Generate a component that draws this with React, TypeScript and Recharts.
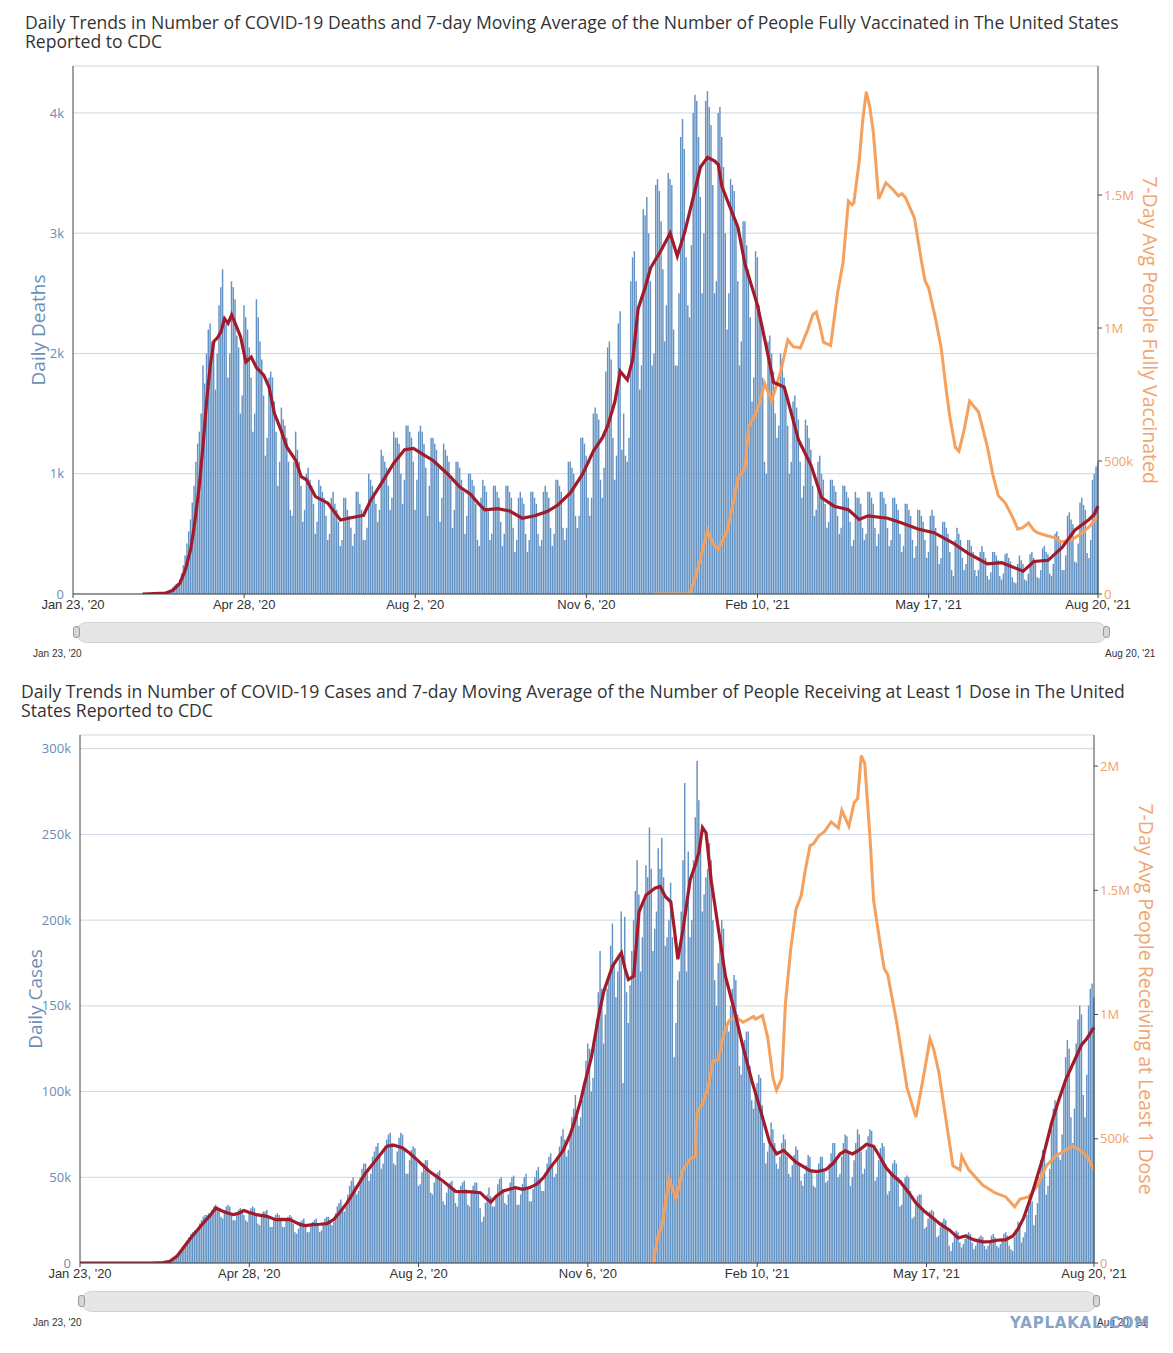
import React from 'react';
import { ComposedChart, Bar, Line, XAxis, YAxis, CartesianGrid } from 'recharts';

// x axis runs in days counted from Jan 23, 2020 (day 0) to Aug 20, 2021 (day 575)
const LAST_DAY = 575;
const FIRST_BAR_DAY = 38; // Sun Mar 1, 2020 – daily bars start here, one row per week below
const xTicks = [0, 96, 192, 288, 384, 480, 575];
const xTickLabels = ["Jan 23, '20", "Apr 28, '20", "Aug 2, '20", "Nov 6, '20", "Feb 10, '21", "May 17, '21", "Aug 20, '21"];

// daily deaths, Sun..Sat
const dailyDeaths = [
  0, 1, 1, 2, 2, 3, 3,
  3, 4, 6, 8, 10, 12, 15,
  18, 22, 30, 40, 55, 70, 85,
  90, 120, 170, 240, 320, 420, 520,
  620, 760, 900, 1100, 1250, 1350, 1500,
  1900, 1750, 2000, 2200, 2250, 2100, 2050,
  1700, 2000, 2400, 2550, 2700, 2300, 2250,
  1800, 2000, 2600, 2550, 2450, 2150, 2050,
  1500, 1650, 2400, 2300, 2200, 2050, 1800,
  1350, 1500, 2450, 2300, 2100, 1950, 1650,
  1150, 1300, 1800, 1850, 1800, 1600, 1350,
  900, 1100, 1550, 1450, 1400, 1300, 1100,
  700, 650, 1100, 1350, 1200, 1100, 900,
  600, 700, 1000, 1050, 950, 900, 750,
  500, 600, 950, 900, 850, 800, 650,
  450, 500, 800, 850, 750, 700, 600,
  400, 450, 800, 800, 700, 650, 550,
  400, 500, 850, 850, 750, 700, 450,
  450, 550, 1000, 950, 900, 850, 750,
  600, 700, 1200, 1150, 1100, 1050, 900,
  700, 800, 1350, 1300, 1300, 1250, 1000,
  750, 950, 1400, 1400, 1350, 1300, 1100,
  700, 950, 1350, 1400, 1350, 1250, 1050,
  650, 900, 1300, 1300, 1250, 1200, 1050,
  600, 800, 1250, 1200, 1150, 1100, 950,
  550, 700, 1100, 1100, 1050, 950, 850,
  500, 650, 1000, 1000, 950, 900, 750,
  450, 400, 800, 950, 900, 850, 700,
  450, 500, 900, 900, 850, 800, 600,
  400, 500, 900, 900, 850, 800, 550,
  350, 450, 800, 850, 800, 750, 500,
  350, 450, 850, 850, 800, 750, 500,
  400, 450, 850, 900, 850, 800, 550,
  400, 500, 950, 950, 900, 850, 550,
  450, 550, 1100, 1100, 1050, 1000, 650,
  550, 650, 1300, 1300, 1250, 1150, 800,
  650, 800, 1500, 1550, 1500, 1450, 950,
  800, 1050, 1850, 2050, 2100, 1950, 1300,
  950, 1150, 2250, 2350, 1200, 1500, 1150,
  1100, 1300, 2600, 2800, 2850, 2600, 2300,
  1700, 1900, 3200, 3150, 3300, 3000, 2600,
  1900, 2000, 3400, 3450, 3350, 3100, 2700,
  2100, 2400, 3500, 3450, 3400, 2200, 1900,
  1900, 2500, 3800, 3950, 3700, 2800, 2400,
  2300, 2900, 4000, 4150, 4100, 3800, 3300,
  2500, 3000, 4100, 4180, 4050, 3900, 3400,
  2500, 2600, 4000, 4050, 3800, 3550, 3000,
  2200, 2500, 3450, 3400, 3350, 3100, 2600,
  1900, 2100, 3100, 3100, 2900, 2700, 2300,
  1600, 1800, 2850, 2800, 2400, 2300, 1800,
  1100, 1000, 2100, 2150, 2000, 1850, 1500,
  1300, 1400, 2000, 1950, 1800, 1700, 1400,
  1000, 1100, 1600, 1650, 1550, 1450, 1100,
  800, 900, 1450, 1400, 1300, 1200, 900,
  650, 700, 1100, 1150, 1000, 950, 750,
  550, 600, 950, 950, 900, 850, 650,
  500, 550, 900, 900, 850, 800, 600,
  400, 450, 850, 800, 800, 750, 550,
  450, 500, 850, 850, 800, 750, 550,
  400, 500, 850, 850, 800, 750, 550,
  400, 450, 800, 800, 750, 700, 500,
  350, 400, 750, 750, 700, 650, 450,
  300, 400, 700, 700, 650, 600, 450,
  300, 350, 650, 700, 650, 550, 400,
  250, 300, 600, 600, 550, 500, 350,
  200, 150, 450, 550, 500, 450, 300,
  200, 250, 450, 450, 400, 350, 200,
  150, 200, 350, 400, 350, 300, 150,
  120, 180, 350, 350, 320, 280, 150,
  120, 170, 330, 340, 300, 270, 140,
  100, 90, 250, 320, 280, 250, 120,
  110, 170, 330, 350, 300, 280, 140,
  130, 200, 380, 400, 350, 330, 170,
  150, 250, 500, 520, 480, 450, 200,
  200, 320, 650, 680, 620, 580, 270,
  260, 420, 760, 800, 740, 700, 340,
  300, 450, 950, 1000, 1060, 1100,
];

// [day, 7-day average deaths]
const deathsAvg: [number, number][] = [
  [39, 0], [52, 8], [56, 30], [60, 90], [63, 200], [66, 370], [68, 560], [71, 920], [73, 1250], [75, 1610],
  [77, 1900], [79, 2100], [81, 2130], [83, 2180], [85, 2290], [87, 2250], [89, 2320], [91, 2250], [94, 2140],
  [97, 1930], [100, 1970], [103, 1880], [107, 1820], [110, 1720], [113, 1500], [117, 1350], [120, 1220],
  [125, 1110], [128, 975], [131, 950], [136, 810], [143, 755], [150, 615], [158, 640], [163, 655], [167, 780],
  [173, 920], [180, 1090], [186, 1200], [191, 1210], [197, 1155], [202, 1110], [210, 1000], [217, 890],
  [223, 830], [227, 760], [231, 700], [238, 710], [245, 690], [252, 630], [259, 650], [266, 685], [272, 740],
  [279, 840], [286, 1000], [292, 1190], [297, 1300], [300, 1400], [304, 1600], [307, 1850], [311, 1780],
  [314, 1950], [317, 2370], [321, 2550], [324, 2710], [330, 2860], [335, 3000], [339, 2810], [343, 3000],
  [347, 3240], [352, 3550], [356, 3630], [360, 3600], [362, 3570], [364, 3390], [369, 3200], [373, 3050],
  [377, 2740], [384, 2400], [389, 2050], [393, 1760], [396, 1740], [399, 1720], [403, 1500], [407, 1280],
  [414, 1070], [420, 800], [427, 730], [435, 700], [441, 620], [446, 650], [457, 630], [465, 590], [474, 540],
  [483, 510], [493, 430], [502, 340], [513, 250], [521, 260], [533, 190], [539, 270], [547, 280], [555, 390],
  [562, 530], [570, 620], [573, 665], [575, 730],
];

// [day, 7-day average of people fully vaccinated]
const fullyVaccinated: [number, number][] = [
  [326, 0], [346, 0], [349, 60000], [352, 135000], [356, 238000], [359, 190000], [362, 167000], [367, 238000],
  [370, 330000], [373, 433000], [377, 474000], [379, 628000], [384, 693000], [388, 791000], [392, 726000],
  [397, 837000], [401, 955000], [404, 930000], [408, 925000], [412, 990000], [415, 1050000], [417, 1060000],
  [419, 1010000], [421, 947000], [425, 934000], [429, 1135000], [432, 1248000], [435, 1477000], [437, 1463000],
  [438, 1470000], [441, 1624000], [443, 1780000], [445, 1888000], [447, 1830000], [449, 1734000], [452, 1485000],
  [456, 1546000], [460, 1520000], [463, 1497000], [465, 1505000], [467, 1490000], [472, 1414000], [476, 1250000],
  [478, 1178000], [480, 1150000], [484, 1030000], [487, 927000], [490, 760000], [492, 662000], [495, 551000],
  [497, 537000], [500, 620000], [503, 725000], [506, 700000], [508, 684000], [513, 551000], [516, 450000],
  [519, 370000], [523, 342000], [527, 290000], [530, 244000], [533, 250000], [536, 267000], [539, 240000],
  [541, 231000], [546, 220000], [551, 211000], [554, 196000], [558, 200000], [562, 211000], [566, 230000],
  [570, 252000], [575, 293000],
];

// daily cases in thousands, Sun..Sat
const dailyCasesK = [
  0, 0, 0.1, 0.1, 0.1, 0.2, 0.2,
  0.3, 0.4, 0.5, 0.6, 0.8, 1, 1.5,
  2, 2.5, 3.5, 4.5, 6, 7.5, 9,
  10, 11, 13, 15, 17, 18, 19,
  19, 20, 23, 25, 27, 28, 28,
  29, 28, 31, 33, 34, 33, 32,
  27, 26, 30, 33, 34, 33, 29,
  25, 25, 28, 31, 32, 31, 28,
  25, 24, 29, 32, 33, 32, 28,
  23, 22, 27, 30, 30, 31, 27,
  21, 21, 26, 28, 29, 28, 25,
  21, 21, 25, 27, 28, 27, 23,
  18, 17, 20, 24, 25, 26, 22,
  18, 18, 22, 24, 25, 26, 23,
  18, 19, 23, 26, 27, 27, 24,
  22, 24, 29, 33, 35, 37, 33,
  30, 33, 40, 45, 48, 50, 45,
  40, 42, 50, 55, 58, 58, 52,
  48, 52, 62, 65, 68, 70, 62,
  55, 58, 68, 72, 75, 76, 70,
  58, 57, 65, 73, 76, 75, 66,
  52, 52, 60, 66, 68, 67, 59,
  45, 46, 53, 58, 60, 60, 52,
  41, 40, 47, 52, 53, 54, 47,
  36, 34, 41, 46, 47, 48, 42,
  35, 33, 41, 45, 47, 48, 43,
  34, 33, 41, 45, 47, 47, 41,
  32, 24, 27, 35, 40, 44, 39,
  33, 33, 38, 46, 49, 50, 43,
  35, 34, 40, 47, 50, 51, 45,
  34, 34, 40, 46, 50, 52, 44,
  36, 36, 43, 50, 54, 56, 48,
  42, 42, 50, 58, 62, 64, 57,
  50, 52, 61, 68, 74, 78, 72,
  62, 66, 75, 85, 90, 98, 88,
  80, 85, 95, 105, 118, 128, 125,
  100, 108, 128, 142, 158, 182, 160,
  128, 145, 160, 168, 185, 198, 175,
  155, 170, 178, 205, 105, 202, 158,
  140, 162, 182, 200, 217, 235, 215,
  170, 190, 210, 232, 225, 254, 230,
  182, 195, 205, 242, 230, 248, 225,
  185, 190, 200, 222, 190, 120, 140,
  165, 170, 205, 235, 280, 170, 240,
  190, 200, 235, 260, 293, 270, 245,
  205, 215, 225, 230, 245, 235, 200,
  165, 150, 175, 185, 200, 195, 170,
  140, 135, 150, 160, 168, 165, 145,
  115, 110, 125, 130, 135, 135, 115,
  95, 90, 100, 105, 110, 108, 92,
  70, 58, 65, 72, 82, 78, 70,
  58, 55, 62, 70, 75, 72, 62,
  52, 50, 57, 63, 68, 66, 58,
  48, 45, 52, 57, 63, 62, 54,
  45, 44, 52, 58, 62, 62, 54,
  47, 48, 58, 64, 70, 70, 61,
  50, 52, 62, 70, 75, 74, 64,
  45, 50, 60, 70, 78, 75, 65,
  52, 55, 66, 74, 78, 77, 67,
  48, 50, 60, 67, 70, 68, 58,
  40, 42, 52, 58, 60, 58, 50,
  33, 34, 44, 50, 51, 50, 42,
  26, 27, 34, 39, 40, 40, 32,
  20, 21, 26, 30, 31, 30, 25,
  15, 16, 21, 24, 26, 25, 20,
  10, 7, 12, 17, 19, 18, 12,
  9, 11, 14, 17, 18, 17, 12,
  8, 10, 13, 15, 16, 15, 10,
  8, 10, 13, 16, 17, 15, 10,
  9, 11, 14, 17, 18, 16, 10,
  8, 7, 15, 20, 24, 22, 12,
  15, 18, 28, 34, 38, 36, 22,
  28, 35, 50, 60, 66, 63, 40,
  45, 55, 78, 90, 95, 92, 62,
  60, 75, 105, 120, 130, 125, 85,
  70, 90, 128, 142, 150, 145, 98,
  85, 110, 150, 160, 163, 155,
];

// [day, 7-day average cases in thousands]
const casesAvgK: [number, number][] = [
  [0, 0], [40, 0], [47, 0.3], [51, 1], [55, 4], [58, 8], [62, 13.6], [66, 18.5], [70, 23.4], [74, 28],
  [77, 32.1], [81, 30.2], [84, 29], [87, 28.2], [90, 29], [93, 30.6], [96, 29.5], [100, 28.2], [106, 27.2],
  [111, 25.3], [115, 25.5], [119, 25.3], [125, 22.4], [128, 21.8], [132, 22.4], [136, 22.6], [140, 23],
  [144, 25.5], [147, 29.2], [151, 34.5], [155, 40.9], [158, 46], [162, 52.5], [168, 60.3], [174, 68.1],
  [178, 68.7], [183, 67.1], [187, 64], [191, 60.3], [198, 53.5], [206, 47.7], [213, 41.8], [218, 41.6],
  [222, 41.5], [227, 41], [230, 38], [233, 35.5], [236, 39], [240, 42], [247, 44], [251, 43], [255, 44],
  [259, 46], [263, 50], [266, 54.8], [270, 60], [274, 65.7], [278, 75], [281, 84.4], [284, 95], [286, 104],
  [290, 120], [294, 143.6], [297, 158.4], [302, 173.2], [307, 181], [309, 172], [311, 165.3], [314, 167.3],
  [317, 204.8], [321, 214.7], [326, 218.6], [329, 219.6], [332, 213.7], [335, 210.7], [337, 195], [339, 177.2],
  [342, 195], [346, 223.5], [349, 232.4], [351, 240], [353, 254], [355, 251], [358, 222.6], [362, 195],
  [366, 167.3], [371, 147.6], [376, 125.9], [381, 106.2], [385, 92.3], [391, 70.6], [395, 63.7], [399, 65.7],
  [406, 58.8], [414, 53.9], [418, 53.3], [423, 54.5], [427, 58], [431, 63.6], [434, 65.4], [438, 63.6],
  [442, 66], [446, 69.3], [450, 68.1], [453, 63], [457, 55.6], [461, 51], [465, 47.6], [470, 41], [474, 35],
  [479, 30], [484, 26], [488, 22.5], [493, 19.3], [498, 14.6], [502, 15.8], [507, 13.5], [512, 12.3],
  [516, 12.5], [521, 13.4], [525, 13.6], [529, 15.8], [532, 20], [535, 26], [540, 40.8], [546, 61.3],
  [551, 81.8], [555, 95], [559, 107], [565, 120.6], [568, 127.4], [571, 131], [575, 137.5],
];

// [day, 7-day average of people receiving at least 1 dose]
const atLeastOneDose: [number, number][] = [
  [325, 0], [328, 118000], [330, 146000], [334, 336000], [338, 261000], [342, 377000], [346, 418000],
  [349, 431000], [350, 608000], [353, 642000], [356, 703000], [359, 812000], [362, 819000], [365, 921000],
  [368, 975000], [372, 989000], [376, 969000], [382, 992000], [383, 982000], [387, 996000], [390, 907000],
  [393, 744000], [395, 696000], [398, 744000], [400, 1043000], [403, 1261000], [406, 1424000], [409, 1479000],
  [411, 1570000], [414, 1680000], [416, 1688000], [419, 1720000], [422, 1735000], [426, 1775000],
  [430, 1751000], [432, 1822000], [436, 1758000], [439, 1853000], [441, 1869000], [443, 2042000],
  [445, 2010000], [448, 1711000], [450, 1461000], [453, 1319000], [456, 1185000], [458, 1161000],
  [463, 974000], [469, 705000], [474, 587000], [478, 737000], [482, 902000], [484, 863000], [487, 769000],
  [492, 533000], [495, 391000], [499, 375000], [500, 430000], [504, 375000], [512, 313000], [519, 282000],
  [525, 266000], [530, 226000], [533, 257000], [538, 266000], [543, 313000], [548, 391000], [553, 430000],
  [559, 455000], [563, 470000], [567, 455000], [571, 430000], [575, 375000],
];

const deathTicks = [0, 1000, 2000, 3000, 4000];
const caseTicksK = [0, 50, 100, 150, 200, 250, 300];
const vaxTicks = [0, 500000, 1000000, 1500000];
const doseTicks = [0, 500000, 1000000, 1500000, 2000000];

const BAR_BLUE = '#6393c4';
const AVG_RED = '#a21b2b';
const VAX_ORANGE = '#f5a05c';
const FONT = '"Open Sans", "Noto Sans", sans-serif';
const TICK_FONT = '"Liberation Sans", Arial, sans-serif';

function buildRows(daily: number[], avg: [number, number][], vax: [number, number][]) {
  const avgMap = new Map(avg);
  const vaxMap = new Map(vax);
  const rows = [];
  for (let d = 0; d <= LAST_DAY; d++) {
    const i = d - FIRST_BAR_DAY;
    rows.push({
      day: d,
      bar: i >= 0 && i < daily.length ? daily[i] : null,
      avg: avgMap.has(d) ? avgMap.get(d) : null,
      vax: vaxMap.has(d) ? vaxMap.get(d) : null,
    });
  }
  return rows;
}

const fmtRight = (v: number) => {
  if (v === 0) return '0';
  if (v >= 1000000) return `${v / 1000000}M`;
  return `${v / 1000}k`;
};

function TrendChart(props: any) {
  const { top, height, plotTop, leftW, rightW, rows, leftDomain, leftTicks, leftFmt, rightDomain, rightTicks, leftLabel, rightLabel, leftDx, rightDx } = props;
  return (
    <div style={{ position: 'absolute', left: 0, top }}>
      <ComposedChart width={1173} height={height} data={rows} margin={{ top: plotTop, right: 0, bottom: 0, left: 0 }}>
        <CartesianGrid yAxisId="left" vertical={false} stroke="#cbd7e3" />
        <XAxis
          dataKey="day"
          type="number"
          domain={[0, LAST_DAY]}
          ticks={xTicks}
          interval={0}
          tickFormatter={(v: number) => xTickLabels[xTicks.indexOf(v)]}
          height={31}
          stroke="#444"
          tickSize={4}
          tickMargin={2}
          tick={{ fill: '#333', fontSize: 13, fontFamily: TICK_FONT }}
        />
        <YAxis
          yAxisId="left"
          width={leftW}
          domain={leftDomain}
          ticks={leftTicks}
          interval={0}
          allowDataOverflow
          tickFormatter={leftFmt}
          tickLine={false}
          axisLine={{ stroke: '#444' }}
          tickMargin={3}
          tick={{ fill: '#6a8cb3', fontSize: 13, fontFamily: FONT }}
          label={{ value: leftLabel, angle: -90, position: 'center', dx: leftDx, style: { fill: '#6b8fb8', fontSize: 19, fontFamily: FONT } }}
        />
        <YAxis
          yAxisId="right"
          orientation="right"
          width={rightW}
          domain={rightDomain}
          ticks={rightTicks}
          interval={0}
          allowDataOverflow
          tickFormatter={fmtRight}
          tickSize={4}
          tickMargin={2}
          stroke="#444"
          tick={{ fill: '#f0a26a', fontSize: 13, fontFamily: FONT }}
          label={{ value: rightLabel, angle: 90, position: 'center', dx: rightDx, style: { fill: '#f2a46e', fontSize: 19.5, fontFamily: FONT } }}
        />
        <Bar yAxisId="left" dataKey="bar" fill={BAR_BLUE} barSize={1.45} isAnimationActive={false} />
        <Line yAxisId="right" dataKey="vax" stroke={VAX_ORANGE} strokeWidth={3} dot={false} connectNulls isAnimationActive={false} />
        <Line yAxisId="left" dataKey="avg" stroke={AVG_RED} strokeWidth={3.2} dot={false} connectNulls isAnimationActive={false} />
      </ComposedChart>
    </div>
  );
}

function Slider({ left, right, top, endLabelLeft }: any) {
  const handle = (x: number) => (
    <div style={{ position: 'absolute', left: x, top: top + 4, width: 7, height: 12, background: '#d6d6d6', border: '1px solid #999', borderRadius: 3, boxSizing: 'border-box' }} />
  );
  return (
    <>
      <div style={{ position: 'absolute', left: left + 3, top, width: right - left - 6, height: 21, background: '#e6e6e6', border: '1px solid #d2d2d2', borderRadius: 11, boxSizing: 'border-box' }} />
      {handle(left)}
      {handle(right - 7)}
      <div style={{ position: 'absolute', left: 33, top: top + 26, fontSize: 10, color: '#333', fontFamily: TICK_FONT }}>Jan 23, '20</div>
      <div style={{ position: 'absolute', left: endLabelLeft, top: top + 26, fontSize: 10, color: '#333', fontFamily: TICK_FONT }}>Aug 20, '21</div>
    </>
  );
}

const titleStyle: React.CSSProperties = { position: 'absolute', fontSize: 17.6, lineHeight: '18.5px', color: '#333', fontFamily: FONT, whiteSpace: 'nowrap' };

export default function App() {
  const deathRows = buildRows(dailyDeaths, deathsAvg, fullyVaccinated);
  const caseRows = buildRows(dailyCasesK, casesAvgK, atLeastOneDose);
  return (
    <div style={{ position: 'absolute', left: 0, top: 0, width: 1173, height: 1353, background: '#fff', overflow: 'hidden' }}>
      <div style={{ ...titleStyle, left: 25, top: 13 }}>
        Daily Trends in Number of COVID-19 Deaths and 7-day Moving Average of the Number of People Fully Vaccinated in The United States
        <br />Reported to CDC
      </div>
      <TrendChart
        top={0}
        height={625}
        plotTop={66}
        leftW={73}
        rightW={75}
        rows={deathRows}
        leftDomain={[0, 4390]}
        leftTicks={deathTicks}
        leftFmt={(v: number) => (v === 0 ? '0' : `${v / 1000}k`)}
        rightDomain={[0, 1985000]}
        rightTicks={vaxTicks}
        leftLabel="Daily Deaths"
        rightLabel="7-Day Avg People Fully Vaccinated"
        leftDx={2}
        rightDx={14}
      />
      <Slider left={73} right={1110} top={622} endLabelLeft={1105} />

      <div style={{ ...titleStyle, left: 21, top: 682 }}>
        Daily Trends in Number of COVID-19 Cases and 7-day Moving Average of the Number of People Receiving at Least 1 Dose in The United
        <br />States Reported to CDC
      </div>
      <TrendChart
        top={670}
        height={624}
        plotTop={65}
        leftW={80}
        rightW={79}
        rows={caseRows}
        leftDomain={[0, 308]}
        leftTicks={caseTicksK}
        leftFmt={(v: number) => (v === 0 ? '0' : `${v}k`)}
        rightDomain={[0, 2125000]}
        rightTicks={doseTicks}
        leftLabel="Daily Cases"
        rightLabel="7-Day Avg People Receiving at Least 1 Dose"
        leftDx={-5}
        rightDx={12}
      />
      <Slider left={78} right={1100} top={1291} endLabelLeft={1097} />
      <div style={{ position: 'absolute', left: 1010, top: 1314, fontSize: 15, fontWeight: 'bold', color: '#87a4c8', letterSpacing: 0.8, fontFamily: '"DejaVu Sans", sans-serif' }}>YAPLAKAL.COM</div>
    </div>
  );
}
